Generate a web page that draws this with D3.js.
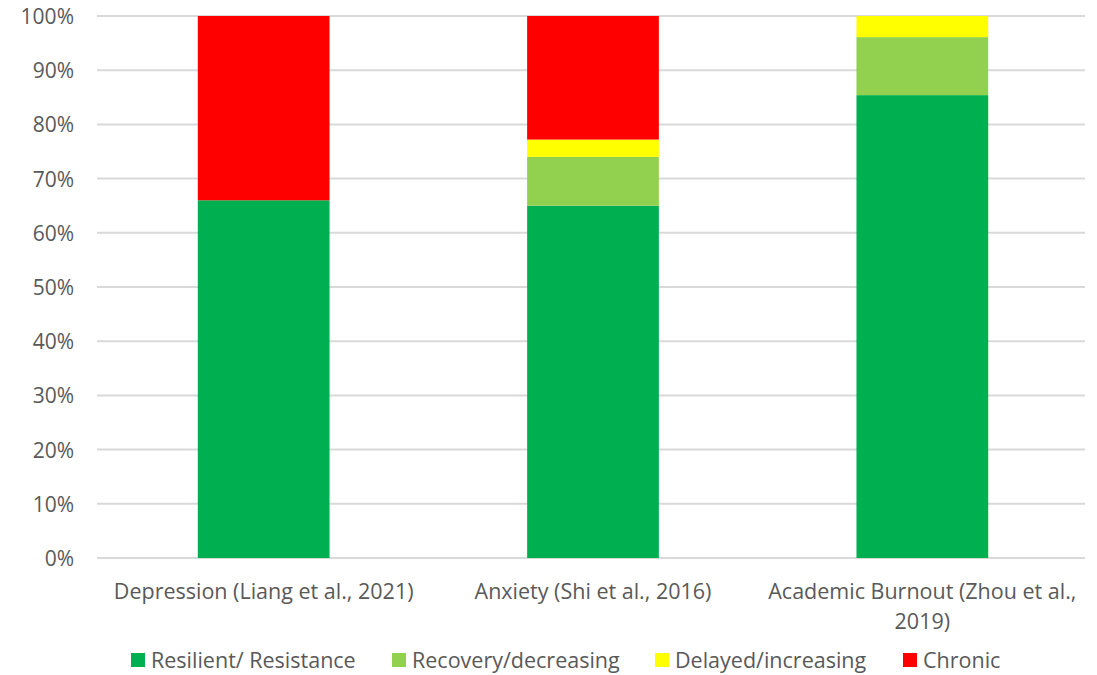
<!DOCTYPE html>
<html>
<head>
<meta charset="utf-8">
<script src="https://cdn.jsdelivr.net/npm/d3@7"></script>
<style>
body { margin: 0; background: #fff; }
text { font-family: "Open Sans", "Liberation Sans", sans-serif; fill: #595959; }
</style>
</head>
<body>
<svg id="svg" width="1097" height="675"></svg>
<script>
// categories and series (percent)
var categories = ["Depression (Liang et al., 2021)", "Anxiety (Shi et al., 2016)", "Academic Burnout (Zhou et al., 2019)"];
var seriesNames = ["Resilient/ Resistance", "Recovery/decreasing", "Delayed/increasing", "Chronic"];
var resilient = [66, 65, 85.4];
var recovery = [0, 9, 10.7];
var delayed = [0, 3.2, 3.9];
var chronic = [34, 22.8, 0];
var yTicks = [0, 10, 20, 30, 40, 50, 60, 70, 80, 90, 100];
var colors = ["#00b050", "#92d050", "#ffff00", "#ff0000"];

var svg = d3.select("#svg");
var pLeft = 97, pRight = 1085, pTop = 16, pBottom = 558;

var x = d3.scaleBand().domain(categories).range([pLeft + 2, pRight + 2]).paddingInner(0.6).paddingOuter(0.3);
var y = d3.scaleLinear().domain([0, 100]).range([pBottom, pTop]);

var rows = categories.map(function(c, i) {
    return {cat: c, s0: resilient[i], s1: recovery[i], s2: delayed[i], s3: chronic[i]};
});
var stack = d3.stack().keys(["s0", "s1", "s2", "s3"]);
var layers = stack(rows);

// gridlines
svg.append("g").selectAll("line")
    .data(yTicks)
    .enter().append("line")
    .attr("x1", pLeft).attr("x2", pRight)
    .attr("y1", function(d) { return y(d); })
    .attr("y2", function(d) { return y(d); })
    .attr("stroke", "#d9d9d9")
    .attr("stroke-width", 2);

// y tick labels
svg.append("g").selectAll("text")
    .data(yTicks)
    .enter().append("text")
    .attr("x", 74)
    .attr("y", function(d) { return y(d) + 8; })
    .attr("text-anchor", "end")
    .attr("font-size", "21px")
    .text(function(d) { return d + "%"; });

// bars
svg.append("g").selectAll("g")
    .data(layers)
    .enter().append("g")
    .attr("fill", function(d, i) { return colors[i]; })
    .selectAll("rect")
    .data(function(d) { return d; })
    .enter().append("rect")
    .attr("x", function(d) { return x(d.data.cat); })
    .attr("width", x.bandwidth())
    .attr("y", function(d) { return y(d[1]); })
    .attr("height", function(d) { return y(d[0]) - y(d[1]); });

// category labels (wrapped like the original)
var catLines = [["Depression (Liang et al., 2021)"], ["Anxiety (Shi et al., 2016)"], ["Academic Burnout (Zhou et al.,", "2019)"]];
svg.append("g").selectAll("text")
    .data(categories)
    .enter().append("text")
    .attr("text-anchor", "middle")
    .attr("font-size", "21.5px")
    .attr("y", 599)
    .each(function(d, i) {
        var t = d3.select(this);
        var cx = x(d) + x.bandwidth() / 2;
        catLines[i].forEach(function(line, j) {
            t.append("tspan").attr("x", cx).attr("dy", j === 0 ? 0 : 30).text(line);
        });
    });

// legend
var legendX = [131, 392, 655, 903];
var legend = svg.append("g").selectAll("g")
    .data(seriesNames)
    .enter().append("g")
    .attr("transform", function(d, i) { return "translate(" + legendX[i] + ",653)"; });
legend.append("rect")
    .attr("width", 14).attr("height", 14)
    .attr("fill", function(d, i) { return colors[i]; });
legend.append("text")
    .attr("x", 20).attr("y", 15)
    .attr("font-size", "21.5px")
    .text(function(d) { return d; });
</script>
</body>
</html>
